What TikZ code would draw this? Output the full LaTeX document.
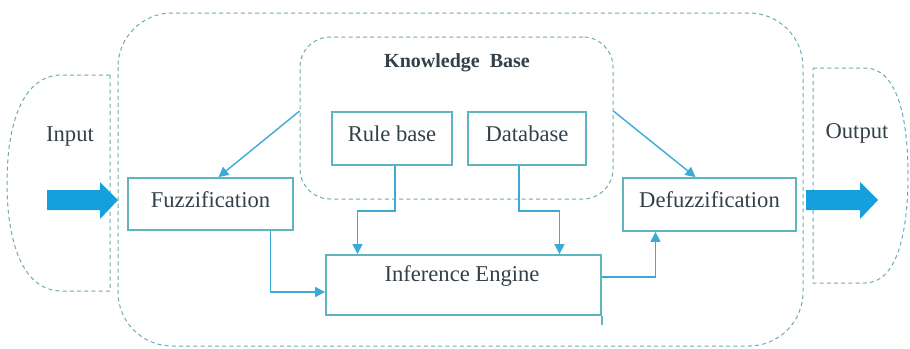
\documentclass[tikz,border=0pt]{standalone}
\usepackage{fontspec}
\setmainfont{Liberation Serif}
\usetikzlibrary{arrows.meta,calc}
\definecolor{boxc}{RGB}{95,180,190}
\definecolor{dashc}{RGB}{110,170,175}
\definecolor{connc}{RGB}{60,170,215}
\definecolor{bigblue}{RGB}{20,160,220}
\definecolor{txtc}{RGB}{50,65,72}
\tikzset{
  boxnode/.style={draw=boxc, line width=0.9pt, text=txtc, font=\fontsize{11.3}{13}\selectfont, inner sep=0pt, text height=8pt, text depth=5pt},
  dashbox/.style={draw=dashc, line width=0.5pt, dash pattern=on 2pt off 1.6pt},
  conn/.style={draw=connc, line width=0.7pt, -{Triangle[length=5pt,width=5pt]}},
  lbl/.style={text=txtc, font=\fontsize{11.3}{13}\selectfont, inner sep=0pt},
}
\begin{document}
\begin{tikzpicture}[x=0.5pt,y=-0.5pt]
\useasboundingbox (0,0) rectangle (910,348);
% outer region
\draw[dashbox, rounded corners=27pt] (118,13) rectangle (803,346);
% knowledge base
\node[dashbox, rounded corners=15pt, minimum width=156.5pt, minimum height=81pt] (kb) at (456.5,118) {};
\node[lbl, font=\fontsize{10}{12}\selectfont\bfseries] (kbt) at (457,63) {Knowledge\hspace{0.5em}Base};
% input / output shapes
\draw[dashbox] (110,75) -- (62,75) .. controls (22,75) and (7,125) .. (7,183) .. controls (7,241) and (22,291) .. (62,291) -- (110,291) -- cycle;
\draw[dashbox] (813,68) -- (865,68) .. controls (898,68) and (908,120) .. (908,175) .. controls (908,230) and (898,283) .. (865,283) -- (813,283) -- cycle;
\node[lbl] (inlbl) at (70,137) {Input};
\node[lbl] (outlbl) at (857,133) {Output};
% big arrows
\fill[bigblue] (47,190) -- (100,190) -- (100,182) -- (118,200) -- (100,219) -- (100,210) -- (47,210) -- cycle;
\fill[bigblue] (806,190) -- (860,190) -- (860,182) -- (878,200) -- (860,219) -- (860,210) -- (806,210) -- cycle;
% boxes
\node[boxnode, minimum width=60pt, minimum height=26.5pt] (rule) at (392,138.5) {Rule base};
\node[boxnode, minimum width=59pt, minimum height=26.5pt] (db) at (527,138.5) {Database};
\node[boxnode, minimum width=82.5pt, minimum height=26pt] (fuzz) at (210.5,204) {Fuzzification};
\node[boxnode, minimum width=86.5pt, minimum height=26.5pt] (defuzz) at (709.5,204.5) {Defuzzification};
\node[boxnode, minimum width=137.5pt, minimum height=30pt] (inf) at (463.5,285) {};
\node[lbl] (inft) at (462,276) {Inference Engine};
\draw[draw=boxc, line width=0.9pt] (inf.south east) -- ++(0,9);
% connectors
\draw[conn] (kb.west |- rule.north) -- ([xshift=4pt]fuzz.north);
\draw[conn] (kb.east |- db.north) -- ([xshift=-7pt]defuzz.north);
\draw[conn] ([xshift=1.5pt]rule.south) -- ++(0,45) -| ([xshift=-53pt]inf.north);
\draw[conn] ([xshift=-4pt]db.south) -- ++(0,45) -| ([xshift=48pt]inf.north);
\draw[conn] ([xshift=30pt]fuzz.south) |- ([yshift=-3.5pt]inf.west);
\draw[conn] ([yshift=4pt]inf.east) -| ([xshift=-27pt]defuzz.south);
\end{tikzpicture}
\end{document}
